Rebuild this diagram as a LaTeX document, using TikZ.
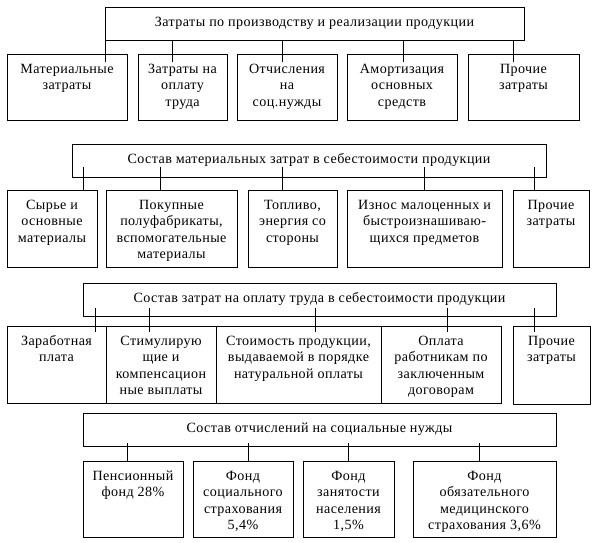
\documentclass[tikz,border=0pt]{standalone}
\usepackage{fontspec}
\setmainfont{Liberation Serif}[LetterSpace=3]
\tikzset{
  bx/.style={draw, line width=0.8pt, inner sep=0pt, anchor=center},
  ln/.style={line width=0.8pt}
}
\newcommand\mybox[6]{%
  \node[bx] (#1) at ({(#2+#4)/2},{(#3+#5)/2})
   {\parbox[c][\dimexpr #5pt-#3pt\relax][t]{\dimexpr #4pt-#2pt\relax}{\centering\fontsize{14.1}{16.5}\selectfont\rule{0pt}{19pt}#6\par}};}
\begin{document}
\begin{tikzpicture}[x=1pt,y=-1pt]
\useasboundingbox (0,0) rectangle (593,542);
% row 1
\mybox{t1}{105}{7}{524}{40}{Затраты по производству и реализации продукции}
\mybox{a1}{7}{54}{127}{120}{Материальные\\затраты}
\mybox{a2}{138}{54}{227}{120}{Затраты на\\оплату\\труда}
\mybox{a3}{237}{54}{337}{120}{Отчисления\\на\\соц.нужды}
\mybox{a4}{347}{54}{457}{120}{Амортизация\\основных\\средств}
\mybox{a5}{468}{54}{579}{120}{Прочие\\затраты}
\draw[ln] (t1.south -| 105,0) -- ([yshift=-8pt]a1.north -| 105,0);
\draw[ln] (t1.south -| 172,0) -- ([yshift=-8pt]a2.north -| 172,0);
\draw[ln] (t1.south -| 282,0) -- ([yshift=-8pt]a3.north -| 282,0);
\draw[ln] (t1.south -| 403,0) -- ([yshift=-8pt]a4.north -| 403,0);
\draw[ln] (t1.south -| 513,0) -- ([yshift=-8pt]a5.north -| 513,0);
% row 2
\mybox{t2}{72}{144}{546}{177}{Состав материальных затрат в себестоимости продукции}
\mybox{b1}{7}{190}{97}{267}{Сырье и\\основные\\материалы}
\mybox{b2}{106}{190}{237}{267}{Покупные\\полуфабрикаты,\\вспомогательные\\материалы}
\mybox{b3}{248}{190}{337}{267}{Топливо,\\энергия со\\стороны}
\mybox{b4}{347}{190}{502}{267}{Износ малоценных и\\быстроизнашиваю-\\щихся предметов}
\mybox{b5}{513}{190}{589}{267}{Прочие\\затраты}
\draw[ln] ([yshift=10pt]t2.south -| 83,0) -- (b1.north -| 83,0);
\draw[ln] ([yshift=10pt]t2.south -| 160,0) -- (b2.north -| 160,0);
\draw[ln] ([yshift=10pt]t2.south -| 282,0) -- (b3.north -| 282,0);
\draw[ln] ([yshift=10pt]t2.south -| 424,0) -- (b4.north -| 424,0);
\draw[ln] ([yshift=10pt]t2.south -| 534,0) -- (b5.north -| 534,0);
% row 3
\mybox{t3}{83}{283}{556}{316}{Состав затрат на оплату труда в себестоимости продукции}
\mybox{c1}{7}{326}{106}{403}{Заработная\\плата}
\mybox{c2}{106}{326}{216}{403}{Стимулирую\\щие и\\компенсацион\\ные выплаты}
\mybox{c3}{216}{326}{381}{403}{Стоимость продукции,\\выдаваемой в порядке\\натуральной оплаты}
\mybox{c4}{381}{326}{501}{403}{Оплата\\работникам по\\заключенным\\договорам}
\mybox{c5}{513}{326}{590}{404}{Прочие\\затраты}
\draw[ln] ([yshift=8pt]t3.south -| 95,0) -- ([yshift=-6pt]c1.north -| 95,0);
\draw[ln] ([yshift=8pt]t3.south -| 149,0) -- ([yshift=-6pt]c2.north -| 149,0);
\draw[ln] ([yshift=8pt]t3.south -| 315,0) -- ([yshift=-6pt]c3.north -| 315,0);
\draw[ln] ([yshift=8pt]t3.south -| 447,0) -- ([yshift=-6pt]c4.north -| 447,0);
\draw[ln] ([yshift=8pt]t3.south -| 534,0) -- ([yshift=-6pt]c5.north -| 534,0);
% row 4
\mybox{t4}{83}{413}{556}{446}{Состав отчислений на социальные нужды}
\mybox{d1}{83}{461}{183}{537}{Пенсионный\\фонд 28\%}
\mybox{d2}{193}{461}{293}{537}{Фонд\\социального\\страхования\\5,4\%}
\mybox{d3}{303}{461}{394}{537}{Фонд\\занятости\\населения\\1,5\%}
\mybox{d4}{413}{461}{556}{537}{Фонд\\обязательного\\медицинского\\страхования 3,6\%}
\draw[ln] ([yshift=3pt]t4.south -| 127,0) -- (d1.north -| 127,0);
\draw[ln] ([yshift=3pt]t4.south -| 248,0) -- (d2.north -| 248,0);
\draw[ln] ([yshift=3pt]t4.south -| 348,0) -- (d3.north -| 348,0);
\draw[ln] ([yshift=3pt]t4.south -| 479,0) -- (d4.north -| 479,0);
\end{tikzpicture}
\end{document}
